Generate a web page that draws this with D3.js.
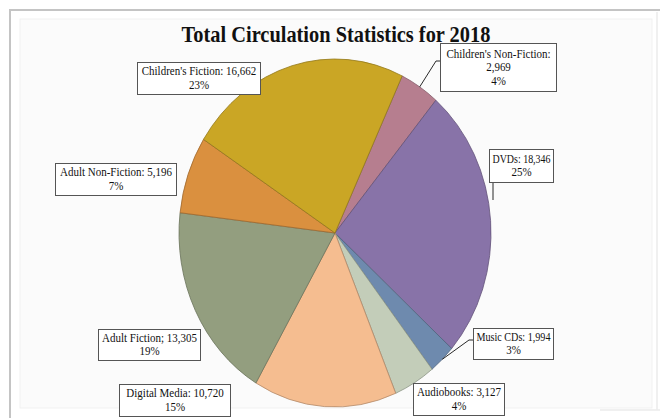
<!DOCTYPE html>
<html>
<head>
<meta charset="utf-8">
<script src="https://cdn.jsdelivr.net/npm/d3@7"></script>
<style>
  body { margin: 0; background: #fff; }
  text { font-family: "Liberation Serif", "Times New Roman", serif; fill: #111; }
</style>
</head>
<body>
<div id="container"></div>
<script>
/* CONSTANTS AND GLOBALS */
const width = 660;
const height = 418;

// DATA
const categories = ["Children's Non-Fiction", "DVDs", "Music CDs", "Audiobooks",
  "Digital Media", "Adult Fiction", "Adult Non-Fiction", "Children's Fiction"];
const values = [2969, 18346, 1994, 3127, 10720, 13305, 5196, 16662];
const percents = ["4%", "25%", "3%", "4%", "15%", "19%", "7%", "23%"];
const colors = ["#b67e8f", "#8873a8", "#6e8aae", "#c3cdb9", "#f5bd90", "#939e7f", "#da903f", "#caa625"];

// label box layout (by category index)
const boxes = [
  { x: 440, y: 43, w: 116, h: 48, split: true, lead: [[436, 61], [440, 61]] },
  { x: 489, y: 149, w: 64, h: 33, lead: [[493, 200], [493, 182]], fixed: true },
  { x: 473, y: 328, w: 80, h: 31, lead: [[469, 340], [473, 340]] },
  { x: 413, y: 383, w: 91, h: 32 },
  { x: 119, y: 384, w: 111, h: 32 },
  { x: 98, y: 329, w: 102, h: 31, sep: ";" },
  { x: 55, y: 163, w: 121, h: 32 },
  { x: 137, y: 62, w: 123, h: 32 }
];

const cx = 335, cy = 233, rx = 156, ry = 174;
const stretch = ry / rx;

var svg = d3.select("#container")
  .append("svg")
  .attr("width", width)
  .attr("height", height);

// FRAME
svg.append("rect")
  .attr("x", 20).attr("y", 19).attr("width", 632).attr("height", 389)
  .attr("fill", "#fbfbfb").attr("stroke", "#f1f1f1");
svg.append("path")
  .attr("d", "M10,418 V10 H660")
  .attr("fill", "none").attr("stroke", "#c4c4c4").attr("stroke-width", 2);
svg.append("path")
  .attr("d", "M657,12 V410 M600,410 H660")
  .attr("fill", "none").attr("stroke", "#ececec").attr("stroke-width", 1.5);

// TITLE
svg.append("text")
  .attr("transform", "translate(336,42) scale(1," + 1.12 + ")")
  .attr("text-anchor", "middle")
  .style("font-size", "20.4px")
  .style("font-weight", "bold")
  .text("Total Circulation Statistics for 2018");

// PIE
var pie = d3.pie()
  .sort(null)
  .startAngle(25.5 * Math.PI / 180)
  .endAngle(25.5 * Math.PI / 180 + 2 * Math.PI);

var arcs = pie(values);
var arc = d3.arc().innerRadius(0).outerRadius(rx);

var g = svg.append("g")
  .attr("transform", "translate(" + cx + "," + cy + ") scale(1," + stretch + ")");

g.selectAll("path")
  .data(arcs)
  .join("path")
  .attr("d", arc)
  .attr("fill", (d, i) => colors[i])
  .attr("stroke", (d, i) => d3.color(colors[i]).darker(0.9))
  .attr("stroke-width", 0.8)
  .attr("vector-effect", "non-scaling-stroke");

// LEADER LINES
function edge(d) {
  var a = (d.startAngle + d.endAngle) / 2;
  return [cx + rx * Math.sin(a), cy - ry * Math.cos(a)];
}

arcs.forEach(function(d, i) {
  var b = boxes[i];
  if (!b.lead) return;
  var pts = b.fixed ? b.lead : [edge(d)].concat(b.lead);
  svg.append("path")
    .attr("d", d3.line()(pts))
    .attr("fill", "none")
    .attr("stroke", "#111")
    .attr("stroke-width", 0.9);
});

// LABELS
var fmt = d3.format(",");

arcs.forEach(function(d, i) {
  var b = boxes[i];
  var lab = svg.append("g");
  lab.append("rect")
    .attr("x", b.x + 0.5).attr("y", b.y + 0.5)
    .attr("width", b.w).attr("height", b.h)
    .attr("fill", "#fff")
    .attr("stroke", "#555")
    .attr("stroke-width", 1);

  var lines;
  if (b.split) lines = [categories[i] + ":", fmt(values[i]), percents[i]];
  else lines = [categories[i] + (b.sep || ":") + " " + fmt(values[i]), percents[i]];

  var step = 13.5;
  var first = b.y + b.h / 2 - (lines.length - 1) * step / 2 + 4;
  lines.forEach(function(s, k) {
    var t = lab.append("text")
      .attr("transform", "translate(" + (b.x + b.w / 2 + 0.5) + "," + (first + k * step) + ") scale(1,1.12)")
      .attr("text-anchor", "middle")
      .style("font-size", "11px")
      .text(s);
    var len = t.node().getComputedTextLength();
    if (len > b.w - 6) {
      t.attr("textLength", b.w - 6).attr("lengthAdjust", "spacingAndGlyphs");
    }
  });
});
</script>
</body>
</html>
